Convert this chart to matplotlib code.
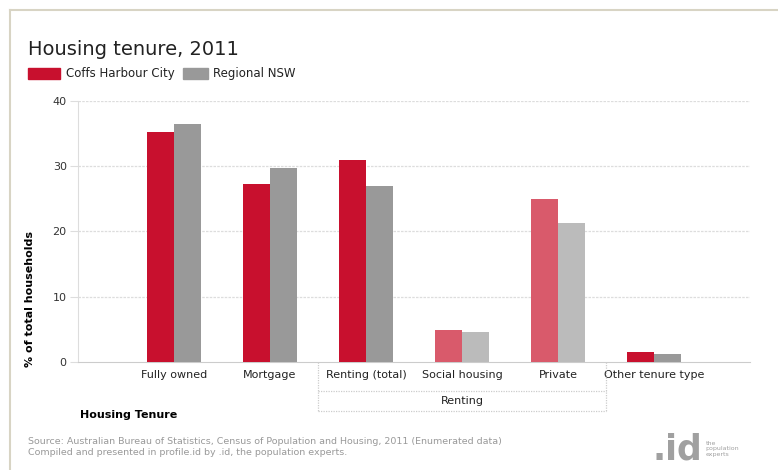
import matplotlib
matplotlib.use('Agg')
import matplotlib.pyplot as plt
from matplotlib.patches import Rectangle

categories = ['Fully owned', 'Mortgage', 'Renting (total)', 'Social housing', 'Private', 'Other tenure type']
coffs = [35.2, 27.3, 31.0, 4.9, 25.0, 1.5]
regional = [36.5, 29.7, 27.0, 4.6, 21.3, 1.2]
series_names = ['Coffs Harbour City', 'Regional NSW']
yticks = [0, 10, 20, 30, 40]

red = '#c8102e'
red_light = '#d95a6b'
grey = '#999999'
grey_light = '#bbbbbb'
# social housing and private are sub-categories of renting -> lighter shade
red_cols = [red, red, red, red_light, red_light, red]
grey_cols = [grey, grey, grey, grey_light, grey_light, grey]

fig = plt.figure(figsize=(7.78, 4.70), dpi=100)
ax = fig.add_axes([0.1, 0.23, 0.864, 0.555])

x = list(range(len(categories)))
w = 0.28
ax.bar([i - w / 2 for i in x], coffs, w, color=red_cols, zorder=3)
ax.bar([i + w / 2 for i in x], regional, w, color=grey_cols, zorder=3)

ax.set_xlim(-1, 6)
ax.set_ylim(0, 40)
ax.set_yticks(yticks)
ax.set_xticks(x)
ax.set_xticklabels(categories, fontsize=8, color='#222222')
ax.tick_params(axis='x', length=0, pad=6)
ax.tick_params(axis='y', length=6, color='#dddddd', labelsize=8, labelcolor='#333333', pad=2)
for t in yticks[1:]:
    ax.axhline(t, color='#dddddd', lw=0.9, ls=(0, (2, 1)), zorder=1)
for s in ['top', 'right']:
    ax.spines[s].set_visible(False)
ax.spines['left'].set_color('#dddddd')
ax.spines['bottom'].set_color('#cccccc')

ax.set_ylabel('% of total households', fontsize=8, fontweight='bold')
ax.yaxis.set_label_coords(-0.064, 0.24)

# "Renting" group box under the axis
dot = dict(color='#cccccc', lw=0.9, ls=(0, (1, 1)), clip_on=False, transform=ax.get_xaxis_transform())
ax.plot([1.5, 1.5], [0, -0.19], **dot)
ax.plot([4.5, 4.5], [0, -0.19], **dot)
ax.plot([1.5, 4.5], [-0.11, -0.11], **dot)
ax.plot([1.5, 4.5], [-0.19, -0.19], **dot)
ax.text(3, -0.15, 'Renting', ha='center', va='center', fontsize=8, color='#222222',
        transform=ax.get_xaxis_transform())

fig.text(0.103, 0.117, 'Housing Tenure', fontsize=8, fontweight='bold', va='center')

fig.text(0.036, 0.895, 'Housing tenure, 2011', fontsize=14, color='#222222', va='center')
fig.patches.append(Rectangle((0.036, 0.832), 0.041, 0.024, transform=fig.transFigure, color=red))
fig.text(0.085, 0.844, series_names[0], fontsize=8.5, va='center', color='#222222')
fig.patches.append(Rectangle((0.235, 0.832), 0.032, 0.024, transform=fig.transFigure, color=grey))
fig.text(0.274, 0.844, series_names[1], fontsize=8.5, va='center', color='#222222')

fig.text(0.036, 0.048, 'Source: Australian Bureau of Statistics, Census of Population and Housing, 2011 (Enumerated data)\n'
         'Compiled and presented in profile.id by .id, the population experts.',
         fontsize=6.8, color='#999999', va='center', linespacing=1.3)
fig.text(0.902, 0.008, '.id', fontsize=25, fontweight='bold', color='#a0a0a0', ha='right', va='bottom')
fig.text(0.907, 0.045, 'the\npopulation\nexperts', fontsize=4.5, color='#a0a0a0', va='center')

# thin frame
fig.add_artist(plt.Line2D([0.013, 0.013], [0, 0.978], color='#d8d4c4', lw=1.5))
fig.add_artist(plt.Line2D([0.013, 1.0], [0.978, 0.978], color='#d8d4c4', lw=1.5))

fig.savefig('out.png', dpi=100)
